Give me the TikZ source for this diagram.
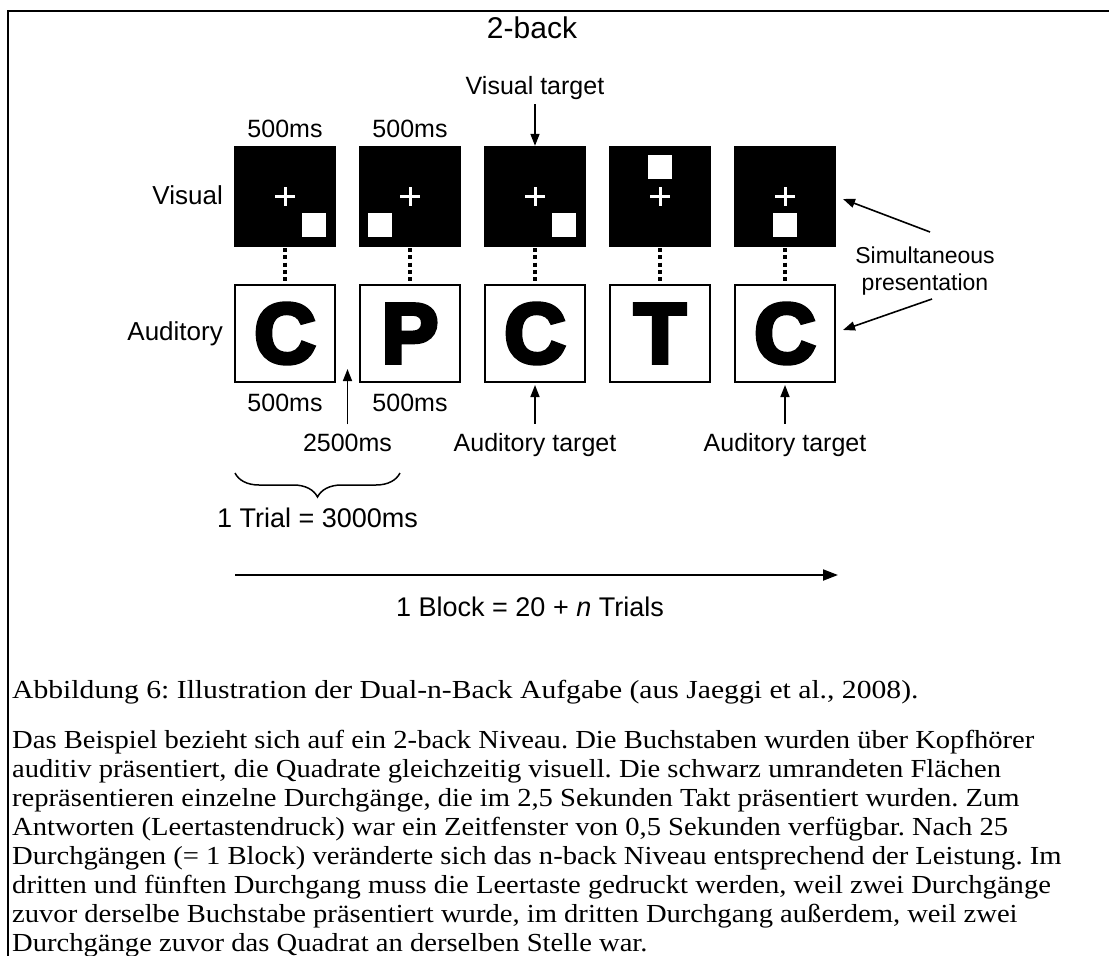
\documentclass[tikz,border=0pt]{standalone}
\usepackage{fontspec}
\setmainfont{Liberation Sans}
\newfontfamily\serifbody{Liberation Serif}[FakeStretch=1.10]
\newfontfamily\serifcap{Liberation Serif}[FakeStretch=1.14]
\newfontfamily\heavy{Liberation Sans Bold}[FakeBold=5]
\usetikzlibrary{arrows.meta,decorations.pathreplacing,calc}
\newcommand\myfs[1]{\fontsize{#1}{#1}\selectfont}
\frenchspacing
\begin{document}
\begin{tikzpicture}[x=1pt,y=-1pt,
  vbox/.style={fill=black, draw=none, minimum width=102pt, minimum height=101pt, inner sep=0pt},
  abox/.style={draw=black, fill=white, line width=2pt, minimum width=100pt, minimum height=97pt, inner sep=0pt, font=\heavy\myfs{85}},
  wsq/.style={fill=white, draw=none, minimum size=24pt, inner sep=0pt},
  lbl/.style={inner sep=0pt, anchor=base, font=\myfs{25}},
  side/.style={inner sep=0pt, anchor=base east, font=\myfs{26}},
  big/.style={inner sep=0pt, anchor=base, font=\myfs{27}},
  simlbl/.style={inner sep=0pt, anchor=base, font=\myfs{23}},
  body/.style={inner sep=0pt, anchor=base west, font=\serifbody\myfs{26}},
  captxt/.style={inner sep=0pt, anchor=base west, font=\serifcap\myfs{26}},
  arr/.style={line width=1.6pt, -{Triangle[length=12pt,width=9pt]}},
  dots/.style={line width=4pt, dash pattern=on 4pt off 3.2pt},
  cross/.style={white, line width=3pt},
  frameline/.style={line width=1.5pt, draw=black}
]
\useasboundingbox (0,0) rectangle (1109,956);
\fill[white] (0,0) rectangle (1109,956);
% frame
\draw[frameline] (8,956) -- (8,11) -- (1109,11);

% title
\node[inner sep=0pt, anchor=base, font=\myfs{30}] (title) at (532,38) {2-back};

% visual boxes
\foreach \i/\x in {1/285,2/410,3/535,4/660,5/785}{
  \node[vbox] (v\i) at (\x,196.5) {};
}
% auditory boxes
\foreach \i/\x/\L in {1/285/C,2/410/P,3/535/C,4/660/T,5/785/C}{
  \node[abox] (a\i) at (\x,333.5) {\L};
}
% white squares
\node[wsq] (s1) at ($(v1)+(29,28)$) {};
\node[wsq] (s2) at ($(v2)+(-30,28)$) {};
\node[wsq] (s3) at ($(v3)+(29,28)$) {};
\node[wsq] (s4) at ($(v4)+(0,-30)$) {};
\node[wsq] (s5) at ($(v5)+(0,28)$) {};
% crosses and dotted links
\foreach \i in {1,...,5}{
  \draw[cross] ($(v\i)+(-10,0)$) -- ($(v\i)+(10,0)$);
  \draw[cross] ($(v\i)+(0,-9.5)$) -- ($(v\i)+(0,9.5)$);
  \draw[dots, shorten <=1pt, shorten >=3pt] (v\i.south) -- (a\i.north);
}

% row labels
\node[side] (lv) at (223,204) {Visual};
\node[side] (la) at (223,340) {Auditory};

% top labels
\node[lbl] (vt) at (535,94) {Visual target};
\draw[arr, shorten <=5pt] (vt.south) -- (v3.north);
\node[lbl] (m1) at (285,137) {500ms};
\node[lbl] (m2) at (410,137) {500ms};

% bottom labels
\node[lbl] (m3) at (285,411) {500ms};
\node[lbl] (m4) at (410,411) {500ms};
\node[lbl] (t2500) at (347.5,451) {2500ms};
\coordinate (gaptip) at (347.5,369);
\draw[arr, shorten <=9pt] (t2500.north) -- (gaptip);
\node[lbl] (at1) at (535,451) {Auditory target};
\node[lbl] (at2) at (785,451) {Auditory target};
\draw[arr, shorten <=9pt, shorten >=2pt] (at1.north) -- (a3.south);
\draw[arr, shorten <=9pt, shorten >=2pt] (at2.north) -- (a5.south);

% simultaneous presentation
\node[simlbl] (sim1) at (925,263) {Simultaneous};
\node[simlbl] (sim2) at (925,290) {presentation};
\coordinate (sv0) at (930,232);
\coordinate (sv1) at (843,199);
\coordinate (sa0) at (932,299);
\coordinate (sa1) at (843,330);
\draw[arr] (sv0) -- (sv1);
\draw[arr] (sa0) -- (sa1);

% brace
\coordinate (brL) at (235,473);
\coordinate (brR) at (400,473);
\draw[line width=1.5pt, decorate, decoration={brace, mirror, amplitude=24pt}] (brL) -- (brR);
\node[big] (trial) at (317.5,527) {1 Trial = 3000ms};

% block arrow
\coordinate (blL) at (235,575);
\coordinate (blR) at (838,575);
\draw[line width=2pt, -{Triangle[length=15pt,width=11pt]}] (blL) -- (blR);
\node[big] (block) at (530,616) {1 Block = 20 + \textit{n} Trials};

% caption and body text
\node[captxt] (cap) at (12,698) {Abbildung 6: Illustration der Dual-n-Back Aufgabe (aus Jaeggi et al., 2008).};
\node[body] (l1) at (12,748) {Das Beispiel bezieht sich auf ein 2-back Niveau. Die Buchstaben wurden über Kopfhörer};
\node[body] (l2) at (12,777) {auditiv präsentiert, die Quadrate gleichzeitig visuell. Die schwarz umrandeten Flächen};
\node[body] (l3) at (12,806) {repräsentieren einzelne Durchgänge, die im 2,5 Sekunden Takt präsentiert wurden. Zum};
\node[body] (l4) at (12,835) {Antworten (Leertastendruck) war ein Zeitfenster von 0,5 Sekunden verfügbar. Nach 25};
\node[body] (l5) at (12,864) {Durchgängen (= 1 Block) veränderte sich das n-back Niveau entsprechend der Leistung. Im};
\node[body] (l6) at (12,893) {dritten und fünften Durchgang muss die Leertaste gedruckt werden, weil zwei Durchgänge};
\node[body] (l7) at (12,922) {zuvor derselbe Buchstabe präsentiert wurde, im dritten Durchgang außerdem, weil zwei};
\node[body] (l8) at (12,951) {Durchgänge zuvor das Quadrat an derselben Stelle war.};
\end{tikzpicture}
\end{document}
